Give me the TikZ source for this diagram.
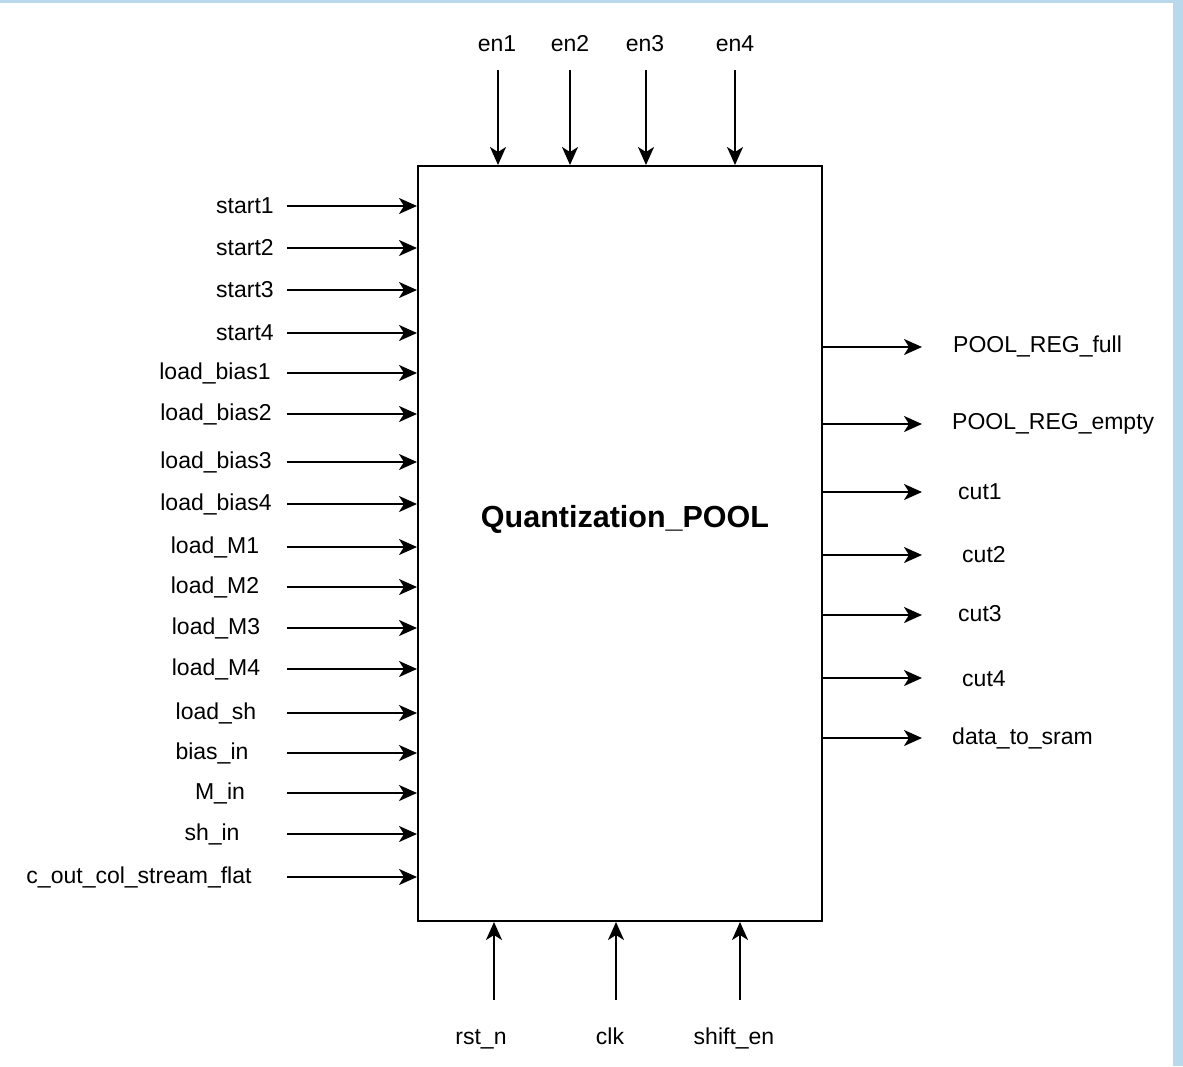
\documentclass[tikz,border=0pt]{standalone}
\usepackage{fontspec}
\setmainfont{Liberation Sans}
\usetikzlibrary{arrows.meta}
\definecolor{frameblue}{HTML}{BAD8EC}
\tikzset{
  lbl/.style={font=\fontsize{23}{27}\selectfont, inner sep=0pt},
  arr/.style={line width=2pt, -{Stealth[length=18pt,width=16pt,inset=5pt]}},
  blk/.style={draw, line width=2pt, minimum width=404pt, minimum height=755pt, inner sep=0pt},
}
\begin{document}
\begin{tikzpicture}[x=1pt,y=-1pt]
\useasboundingbox (0,0) rectangle (1183,1066);
\fill[white] (0,0) rectangle (1183,1066);
\fill[frameblue] (0,0) rectangle (1183,3);
\fill[frameblue] (1173,0) rectangle (1183,1066);

\node[blk] (box) at (620,543.5) {};
\node[font=\bfseries\fontsize{30.5}{34}\selectfont, inner sep=0pt] (title) at (625,519) {Quantization\_POOL};

% top inputs
\foreach \x/\lx/\t [count=\i] in {498/497/en1, 570/570/en2, 646/645/en3, 735/735/en4}{
  \node[lbl] (T\i) at (\lx,44) {\t};
  \coordinate (Ts\i) at (\x,70);
  \draw[arr] (Ts\i) -- (Ts\i |- box.north);
}

% left inputs
\foreach \y/\lx/\t [count=\i] in {
  206/245/start1, 248/245/start2, 290/245/start3, 333/245/start4,
  373/215/load\_bias1, 414/216/load\_bias2, 462/216/load\_bias3, 504/216/load\_bias4,
  547/215/load\_M1, 587/215/load\_M2, 628/216/load\_M3, 669/216/load\_M4,
  713/216/load\_sh, 753/212/bias\_in, 793/220/M\_in, 834/212/sh\_in,
  877/139/c\_out\_col\_stream\_flat}{
  \node[lbl] (L\i) at (\lx,\y) {\t};
  \coordinate (Ls\i) at (287,\y);
  \draw[arr] (Ls\i) -- (Ls\i -| box.west);
}

% right outputs
\foreach \y/\ly/\lx/\t [count=\i] in {
  347/346/953/POOL\_REG\_full, 424/424/952/POOL\_REG\_empty,
  492/492/958/cut1, 555/555/962/cut2, 615/614/958/cut3, 678/679/962/cut4,
  738/738/952/data\_to\_sram}{
  \coordinate (Re\i) at (922,\y);
  \node[lbl, anchor=west] (R\i) at (\lx,\ly) {\t};
  \draw[arr] (Re\i -| box.east) -- (Re\i);
}

% bottom inputs
\foreach \x/\lx/\t [count=\i] in {494/481/rst\_n, 616/610/clk, 740/734/shift\_en}{
  \node[lbl, anchor=base] (B\i) at (\lx,1044) {\t};
  \coordinate (Bs\i) at (\x,1000);
  \draw[arr] (Bs\i) -- (Bs\i |- box.south);
}
\end{tikzpicture}
\end{document}
